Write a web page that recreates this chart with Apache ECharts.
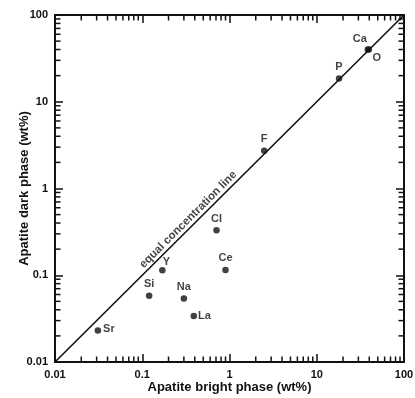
<!DOCTYPE html>
<html><head><meta charset="utf-8">
<script src="https://cdn.jsdelivr.net/npm/echarts@6/dist/echarts.min.js"></script>
<style>html,body{margin:0;padding:0;background:#fff}#c{width:415px;height:398px}</style>
</head><body><div id="c"></div>
<script>
// ---- data ----
const elements    = ['Sr',  'Si',  'Y',   'Na',  'La',  'Cl',  'Ce',  'F',  'P',  'Ca', 'O'];
const brightPhase = [0.031, 0.12,  0.17,  0.30,  0.39,  0.71,  0.90,  2.5,  18,   38.5, 39.5];
const darkPhase   = [0.023, 0.058, 0.114, 0.054, 0.034, 0.33,  0.115, 2.72, 18.5, 40,   40];
const equalLine   = [0.01, 100];
const equalLabelAt = 0.43;
const tickLabels  = ['0.01', '0.1', '1', '10', '100'];
const decades     = [0.01, 0.1, 1, 10];
const minorMult   = [2, 3, 4, 5, 6, 7, 8, 9];

// ---- styles (label placement) ----
const labelPlace = {
  Sr: {position: 'right', offset: [-1, -2]},
  Si: {position: 'top'},
  Y:  {position: 'top', offset: [4, 3]},
  Na: {position: 'top'},
  La: {position: 'right', offset: [-2, 0]},
  Cl: {position: 'top'},
  Ce: {position: 'top'},
  F:  {position: 'top'},
  P:  {position: 'top'},
  Ca: {position: 'top', offset: [-8, 1]},
  O:  {position: 'bottom', offset: [8, -3]}
};

const FONT = '"Liberation Sans", Arial, sans-serif';
const INK = '#111';

const minorTicks = [];
decades.forEach(d => minorMult.forEach(m => {
  const v = +(d * m).toPrecision(6);
  minorTicks.push([v, equalLine[0], 0]);
  minorTicks.push([equalLine[0], v, 1]);
}));

const fmt = v => tickLabels[Math.round(Math.log10(v)) + 2];

function axisBase(pos, showLabel) {
  return {
    type: 'log', logBase: 10, min: equalLine[0], max: equalLine[1], position: pos,
    axisLine: {show: true, onZero: false, lineStyle: {color: INK, width: 2}},
    axisTick: {show: true, inside: true, length: 8, lineStyle: {color: INK, width: 1.5}},
    minorTick: {show: false},
    splitLine: {show: false},
    axisLabel: {show: showLabel, formatter: fmt, color: INK, fontFamily: FONT, fontWeight: 'bold', fontSize: 11, margin: 7}
  };
}

const xB = Object.assign(axisBase('bottom', true), {
  name: 'Apatite bright phase (wt%)', nameLocation: 'middle', nameGap: 19, nameMoveOverlap: false,
  nameTextStyle: {color: INK, fontFamily: FONT, fontWeight: 'bold', fontSize: 13}
});
const xT = axisBase('top', false);
const yL = Object.assign(axisBase('left', true), {
  name: 'Apatite dark phase (wt%)', nameLocation: 'middle', nameGap: 24, nameMoveOverlap: false,
  nameTextStyle: {color: INK, fontFamily: FONT, fontWeight: 'bold', fontSize: 13}
});
const yR = axisBase('right', false);

const chart = echarts.init(document.getElementById('c'), null, {renderer: 'canvas'});
chart.setOption({
  backgroundColor: '#fff',
  animation: false,
  grid: {left: 55, right: 11, top: 15, bottom: 36, containLabel: false, outerBoundsMode: 'none'},
  xAxis: [xB, xT],
  yAxis: [yL, yR],
  series: [
    {
      type: 'line', xAxisIndex: 0, yAxisIndex: 0, showSymbol: false, silent: true,
      data: [[equalLine[0], equalLine[0]], [equalLine[1], equalLine[1]]],
      lineStyle: {color: INK, width: 1.6}
    },
    {
      type: 'scatter', xAxisIndex: 0, yAxisIndex: 0, symbolSize: 0, silent: true,
      data: [[equalLabelAt, equalLabelAt]],
      label: {show: true, position: 'inside', rotate: 45, offset: [-6, -7],
        formatter: 'equal concentration line', color: INK, fontFamily: FONT, fontWeight: 'bold', fontSize: 11.5}
    },
    {
      type: 'scatter', xAxisIndex: 0, yAxisIndex: 0, symbolSize: 6.5,
      itemStyle: {color: INK},
      data: elements.map((n, i) => ({
        name: n, value: [brightPhase[i], darkPhase[i]],
        label: Object.assign({show: true}, labelPlace[n])
      })),
      label: {show: true, formatter: '{b}', distance: 3, color: INK, fontFamily: FONT, fontWeight: 'bold', fontSize: 11}
    },
    {
      type: 'custom', xAxisIndex: 0, yAxisIndex: 0, silent: true, clip: false,
      encode: {x: 0, y: 1},
      data: minorTicks,
      renderItem: function (params, api) {
        const dir = api.value(2);
        const L = 5.5;
        const style = {stroke: INK, lineWidth: 1.5};
        if (dir === 0) {
          const v = api.value(0);
          const b = api.coord([v, equalLine[0]]), t = api.coord([v, equalLine[1]]);
          return {type: 'group', children: [
            {type: 'line', shape: {x1: b[0], y1: b[1], x2: b[0], y2: b[1] - L}, style: style},
            {type: 'line', shape: {x1: t[0], y1: t[1], x2: t[0], y2: t[1] + L}, style: style}
          ]};
        } else {
          const v = api.value(1);
          const l = api.coord([equalLine[0], v]), r = api.coord([equalLine[1], v]);
          return {type: 'group', children: [
            {type: 'line', shape: {x1: l[0], y1: l[1], x2: l[0] + L, y2: l[1]}, style: style},
            {type: 'line', shape: {x1: r[0], y1: r[1], x2: r[0] - L, y2: r[1]}, style: style}
          ]};
        }
      }
    }
  ]
});
</script>
</body></html>
